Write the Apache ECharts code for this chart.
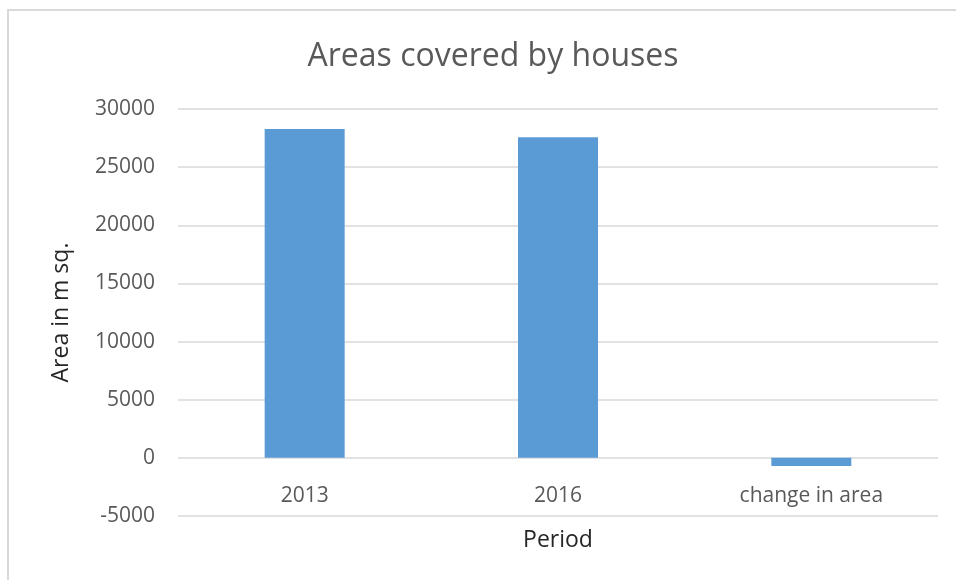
<!DOCTYPE html>
<html>
<head>
<meta charset="utf-8">
<script src="https://cdn.jsdelivr.net/npm/echarts@6/dist/echarts.min.js"></script>
<style>
  html, body { margin: 0; padding: 0; background: #fff; }
  #frame { position: absolute; left: 7px; top: 9px; width: 960px; height: 580px;
           border-left: 2px solid #d9d9d9; border-top: 2px solid #d9d9d9; }
  #barChart { position: absolute; left: 0; top: 0; width: 956px; height: 580px; }
</style>
</head>
<body>
<div id="frame"></div>
<div id="barChart"></div>
<script>
  var categories = ['2013', '2016', 'change in area'];
  var areaValues = [28270, 27580, -690];
  var yTicks = { min: -5000, max: 30000, step: 5000 };

  var chart = echarts.init(document.getElementById('barChart'));
  var textColor = '#595959';
  var font = '"Open Sans", "Noto Sans", sans-serif';

  chart.setOption({
    backgroundColor: 'transparent',
    animation: false,
    title: {
      text: 'Areas covered by houses',
      left: 488,
      textAlign: 'center',
      top: 36,
      textStyle: { fontFamily: font, fontWeight: 'normal', fontSize: 32, color: textColor }
    },
    grid: { left: 178, right: 18, top: 109, bottom: 64, outerBoundsMode: 'none' },
    xAxis: {
      type: 'category',
      data: categories,
      offset: -59,
      name: 'Period',
      nameLocation: 'middle',
      nameGap: 72,
      nameTextStyle: { fontFamily: font, fontSize: 23, color: '#262626' },
      axisLine: { show: false },
      axisTick: { show: false },
      axisLabel: { fontFamily: font, fontSize: 21, color: textColor, margin: 29 }
    },
    yAxis: {
      type: 'value',
      min: yTicks.min,
      max: yTicks.max,
      interval: yTicks.step,
      name: 'Area in m sq.',
      nameLocation: 'middle',
      nameGap: 105,
      nameTextStyle: { fontFamily: font, fontSize: 23, color: '#262626' },
      axisLine: { show: false },
      axisTick: { show: false },
      axisLabel: {
        fontFamily: font, fontSize: 21, color: textColor, margin: 23,
        formatter: function (v) { return String(v); }
      },
      splitLine: { lineStyle: { color: '#d9d9d9', width: 1.5 } }
    },
    series: [{
      type: 'bar',
      data: areaValues,
      barWidth: 80,
      itemStyle: { color: '#5b9bd5' }
    }]
  });
</script>
</body>
</html>
